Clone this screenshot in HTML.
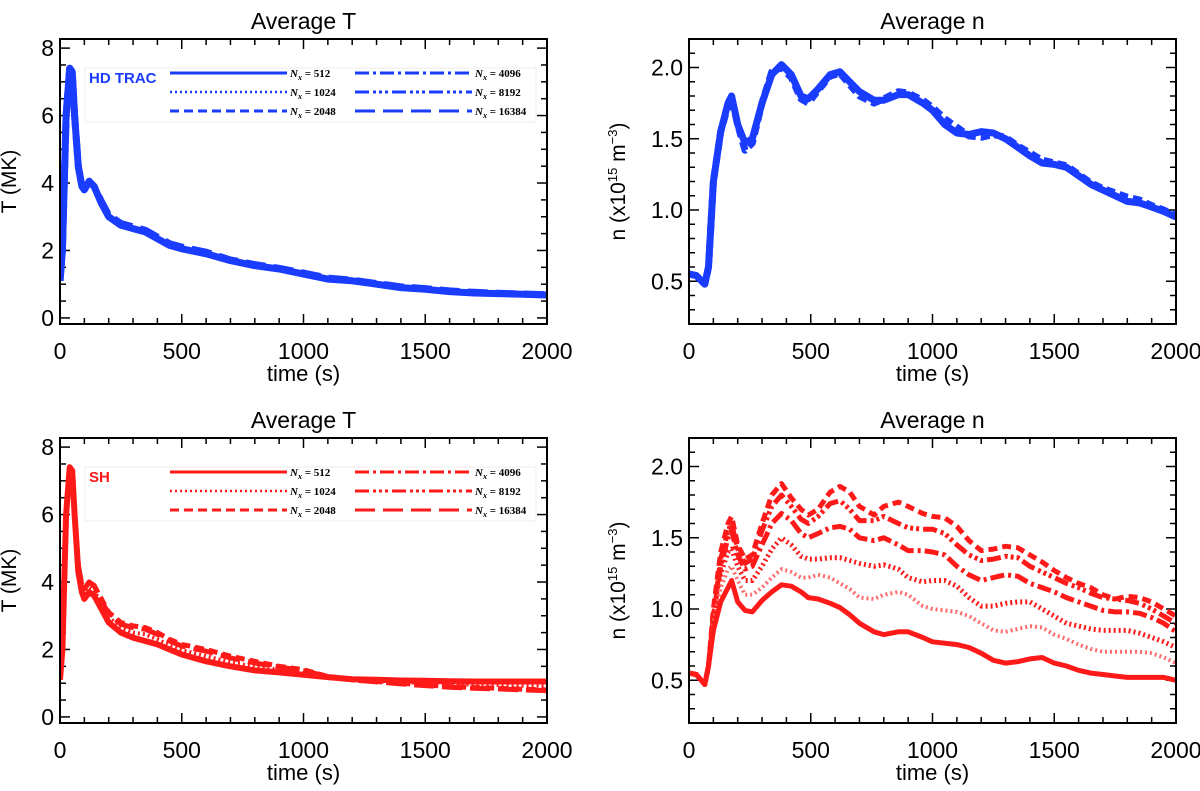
<!DOCTYPE html>
<html><head><meta charset="utf-8"><style>
body{margin:0;background:#fff;}
svg{display:block;font-family:"Liberation Sans",sans-serif;}
</style></head><body>
<svg id="fig" width="1200" height="791" viewBox="0 0 1200 791"></svg>
<script>
// ---------- data ----------
const tT = [0,10,25,40,50,60,75,90,100,120,140,170,200,250,300,350,400,450,500,600,700,800,900,1000,1100,1200,1300,1400,1500,1600,1700,1800,1900,2000];
const hdT512 = [1.1,2,6,7.4,7.3,6,4.5,3.9,3.8,4.05,3.9,3.4,3.0,2.75,2.65,2.55,2.35,2.15,2.05,1.9,1.7,1.55,1.45,1.3,1.15,1.1,1.0,0.9,0.85,0.78,0.74,0.72,0.7,0.68];
const hdT16384 = [1.1,2,6,7.4,7.3,6,4.5,3.9,3.8,4.05,3.9,3.45,3.05,2.8,2.7,2.6,2.4,2.2,2.1,1.95,1.72,1.58,1.47,1.33,1.18,1.12,1.02,0.92,0.87,0.8,0.76,0.73,0.71,0.69];
const shT512 = [1.1,2,6,7.4,7.3,6,4.3,3.7,3.5,3.7,3.6,3.2,2.8,2.5,2.35,2.25,2.15,2.0,1.85,1.65,1.5,1.38,1.32,1.25,1.18,1.12,1.1,1.08,1.07,1.06,1.05,1.05,1.05,1.05];
const shT1024 = [1.1,2,6,7.4,7.3,6,4.4,3.8,3.65,3.85,3.75,3.35,2.95,2.65,2.5,2.45,2.3,2.12,1.98,1.8,1.62,1.48,1.4,1.3,1.18,1.1,1.06,1.03,1.0,0.98,0.96,0.95,0.93,0.92];
const shT2048 = [1.1,2,6,7.4,7.3,6,4.5,3.9,3.8,4.0,3.9,3.5,3.1,2.8,2.7,2.65,2.5,2.3,2.15,2.0,1.8,1.65,1.5,1.4,1.2,1.1,1.05,1.0,0.95,0.9,0.87,0.85,0.82,0.8];
const shT16384 = [1.1,2,6,7.4,7.3,6,4.5,3.9,3.8,4.0,3.9,3.45,3.05,2.75,2.65,2.6,2.45,2.25,2.1,1.95,1.75,1.6,1.48,1.37,1.2,1.1,1.04,0.98,0.93,0.88,0.85,0.83,0.8,0.78];

const tN = [0,30,65,80,100,130,160,175,200,230,260,300,340,380,420,460,490,530,580,620,660,700,760,800,860,900,960,1000,1050,1100,1150,1200,1250,1300,1350,1400,1450,1500,1550,1600,1650,1700,1750,1800,1850,1900,1950,2000];
const hdN512 = [0.55,0.54,0.48,0.6,1.2,1.55,1.75,1.8,1.6,1.47,1.5,1.75,1.95,2.02,1.95,1.8,1.78,1.85,1.95,1.97,1.9,1.83,1.77,1.77,1.81,1.81,1.75,1.7,1.6,1.54,1.53,1.55,1.54,1.5,1.44,1.38,1.33,1.32,1.3,1.24,1.18,1.14,1.1,1.06,1.05,1.02,0.99,0.95];
const hdN2048 = [0.55,0.54,0.48,0.6,1.2,1.55,1.73,1.78,1.6,1.42,1.47,1.75,1.97,2.0,1.93,1.78,1.75,1.84,1.94,1.96,1.88,1.8,1.75,1.78,1.83,1.82,1.77,1.72,1.64,1.58,1.52,1.51,1.53,1.51,1.45,1.4,1.35,1.33,1.31,1.25,1.19,1.15,1.12,1.09,1.07,1.03,1.0,0.96];

const shN512 = [0.55,0.54,0.47,0.6,0.85,1.05,1.15,1.2,1.05,0.99,0.98,1.06,1.12,1.17,1.16,1.12,1.08,1.07,1.04,1.01,0.96,0.9,0.84,0.82,0.84,0.84,0.8,0.77,0.76,0.75,0.73,0.69,0.64,0.62,0.63,0.65,0.66,0.62,0.6,0.57,0.55,0.54,0.53,0.52,0.52,0.52,0.52,0.5];
const shN1024 = [0.55,0.54,0.47,0.6,0.9,1.15,1.28,1.3,1.2,1.1,1.1,1.15,1.22,1.28,1.26,1.22,1.22,1.24,1.22,1.18,1.14,1.08,1.07,1.1,1.12,1.1,1.02,1.0,0.99,0.98,0.95,0.9,0.85,0.84,0.86,0.88,0.87,0.82,0.79,0.75,0.72,0.7,0.7,0.7,0.7,0.69,0.66,0.62];
const shN2048 = [0.55,0.54,0.47,0.6,0.95,1.25,1.4,1.42,1.3,1.2,1.2,1.3,1.42,1.5,1.45,1.37,1.35,1.35,1.36,1.36,1.34,1.32,1.3,1.31,1.28,1.22,1.19,1.2,1.2,1.16,1.08,1.02,1.02,1.04,1.05,1.05,1.0,0.95,0.9,0.88,0.86,0.85,0.85,0.85,0.83,0.8,0.77,0.73];
const shN4096 = [0.55,0.54,0.47,0.6,0.95,1.3,1.5,1.55,1.38,1.28,1.3,1.45,1.6,1.67,1.62,1.53,1.5,1.53,1.57,1.58,1.56,1.5,1.48,1.5,1.45,1.41,1.41,1.4,1.38,1.3,1.24,1.2,1.22,1.24,1.23,1.18,1.15,1.12,1.08,1.05,1.02,0.99,0.98,0.98,0.97,0.94,0.9,0.84];
const shN8192 = [0.55,0.54,0.47,0.6,0.95,1.35,1.55,1.6,1.42,1.32,1.35,1.55,1.72,1.8,1.72,1.63,1.6,1.65,1.74,1.76,1.7,1.62,1.62,1.65,1.6,1.57,1.56,1.56,1.53,1.45,1.38,1.34,1.35,1.37,1.36,1.3,1.26,1.22,1.18,1.15,1.11,1.08,1.07,1.06,1.04,1.0,0.95,0.9];
const shN16384 = [0.55,0.54,0.47,0.6,1.0,1.4,1.6,1.65,1.45,1.35,1.38,1.6,1.8,1.88,1.78,1.7,1.66,1.7,1.82,1.86,1.82,1.72,1.66,1.72,1.75,1.72,1.67,1.65,1.64,1.58,1.48,1.41,1.42,1.44,1.43,1.38,1.33,1.27,1.22,1.18,1.15,1.1,1.07,1.09,1.08,1.05,1.0,0.95];

const legendLabels = ["512","1024","2048","4096","8192","16384"];
const xTicks = [0,500,1000,1500,2000];
const tTicks = [0,2,4,6,8];
const nTicks = [0.5,1.0,1.5,2.0];

// ---------- drawing ----------
const NS="http://www.w3.org/2000/svg";
const svg=document.getElementById('fig');
function mk(tag,attrs,parent){const e=document.createElementNS(NS,tag);for(const k in attrs)e.setAttribute(k,attrs[k]);(parent||svg).appendChild(e);return e;}
const dashes={solid:"",dot:"2,3",dash:"9,5",dashdot:"14,4,3,4",dash3dot:"14,4,3,3,3,3,3,4",longdash:"20,8"};

function panel(name,x0,y0,x1,y1,ymin,ymax,yticks,ydec,yminor,title,ylabelHtml){
  const g=mk('g',{});
  
  
  const sx=v=>x0+(v/2000)*(x1-x0);
  const sy=v=>y1-(v-ymin)/(ymax-ymin)*(y1-y0);
  for(let v=0;v<=2000;v+=100){const X=sx(v);const L=(v%500===0)?10:6;
    mk('line',{x1:X,y1:y1,x2:X,y2:y1-L,stroke:'#000','stroke-width':1.5},g);
    mk('line',{x1:X,y1:y0,x2:X,y2:y0+L,stroke:'#000','stroke-width':1.5},g);}
  for(let v=Math.ceil(ymin/yminor)*yminor;v<=ymax+1e-9;v+=yminor){const Y=sy(v);
    const major=yticks.some(t=>Math.abs(t-v)<1e-6);const L=major?10:6;
    mk('line',{x1:x0,y1:Y,x2:x0+L,y2:Y,stroke:'#000','stroke-width':1.5},g);
    mk('line',{x1:x1,y1:Y,x2:x1-L,y2:Y,stroke:'#000','stroke-width':1.5},g);}
  xTicks.forEach(v=>{const t=mk('text',{x:sx(v),y:y1+35,'text-anchor':'middle','font-size':23},g);t.textContent=v;
    });
  yticks.forEach(v=>{const t=mk('text',{x:x0-6,y:sy(v)+8,'text-anchor':'end','font-size':23},g);t.textContent=v.toFixed(ydec);
    });
  const tt=mk('text',{x:(x0+x1)/2,y:y0-10,'text-anchor':'middle','font-size':23},g);tt.textContent=title;
  
  const xl=mk('text',{x:(x0+x1)/2,y:y1+57,'text-anchor':'middle','font-size':22},g);xl.textContent='time (s)';
  
  const cx=x0-(ydec?64:44), cy=(y0+y1)/2;
  const yl=mk('text',{x:cx,y:cy,'text-anchor':'middle','font-size':21,transform:`rotate(-90 ${cx} ${cy})`},g);
  yl.innerHTML=ylabelHtml;
  
  const clipId='c'+name;
  const cp=mk('clipPath',{id:clipId},g);mk('rect',{x:x0,y:y0,width:x1-x0,height:y1-y0},cp);
  const plot=mk('g',{'clip-path':`url(#${clipId})`},g);
  return {g,plot,sx,sy,box:()=>{const b=mk('rect',{x:x0,y:y0,width:x1-x0,height:y1-y0,fill:'none',stroke:'#000','stroke-width':2},g);
    }};
}
function series(p,ts,vs,color,w,style,nm){
  const d=ts.map((t,i)=>(i?'L':'M')+p.sx(t).toFixed(1)+','+p.sy(vs[i]).toFixed(1)).join('');
  const path=mk('path',{d:d,fill:'none',stroke:color,'stroke-width':w,'stroke-linejoin':'round','stroke-dasharray':dashes[style]},p.plot);
  
  
}
function legend(x0,y0,color,tag){
  const g=mk('g',{});
  
  
  mk('rect',{x:x0,y:y0,width:451,height:54,fill:'#fff',stroke:'#eee','stroke-width':1},g);
  const tg=mk('text',{x:x0+4,y:y0+15,'font-size':15,'font-weight':'bold',fill:color},g);tg.textContent=tag;
  const styles=["solid","dot","dash","dashdot","dash3dot","longdash"];
  legendLabels.forEach((lab,i)=>{const col=Math.floor(i/3),row=i%3;
    const lx=x0+85+col*185, ly=y0+5+row*19;
    const e=mk('g',{},g);
    
    
    mk('line',{x1:lx,y1:ly,x2:lx+117,y2:ly,stroke:color,'stroke-width':styles[i]==='dot'?2.5:3,'stroke-dasharray':dashes[styles[i]]},e);
    const t=mk('text',{x:lx+120,y:ly+4,'font-size':11,'font-family':'"Liberation Serif",serif','font-weight':'bold'},e);
    t.innerHTML=`<tspan font-style="italic">N</tspan><tspan font-style="italic" font-size="8" dy="3">x</tspan><tspan dy="-3"> = ${lab}</tspan>`;
  });
}
const nLabel='n (x10<tspan font-size="13" dy="-8">15</tspan><tspan dy="8"> m</tspan><tspan font-size="13" dy="-8">−3</tspan><tspan dy="8">)</tspan>';
const blue='#1a3cff', red='#ff1a1a';

const p1=panel('panel-avg-T-hd',60,39,547,324,-0.18,8.27,tTicks,0,0.5,'Average T','T (MK)');
series(p1,tT,hdT16384,blue,7,'longdash','series-hd-T-16384');
series(p1,tT,hdT512,blue,7,'solid','series-hd-T-512');
p1.box();
legend(85,68,blue,'HD TRAC');

const p2=panel('panel-avg-n-hd',689,39,1176,324,0.2,2.2,nTicks,1,0.1,'Average n',nLabel);
series(p2,tN,hdN2048,blue,7,'dash','series-hd-n-2048');
series(p2,tN,hdN512,blue,7,'solid','series-hd-n-512');
p2.box();

const p3=panel('panel-avg-T-sh',60,438,547,723,-0.18,8.27,tTicks,0,0.5,'Average T','T (MK)');
series(p3,tT,shT2048,red,5,'dash','series-sh-T-2048');
series(p3,tT,shT16384,red,5,'longdash','series-sh-T-16384');
series(p3,tT,shT1024,red,4,'dot','series-sh-T-1024');
series(p3,tT,shT512,red,6,'solid','series-sh-T-512');
p3.box();
legend(85,467,red,'SH');

const p4=panel('panel-avg-n-sh',689,438,1176,723,0.2,2.2,nTicks,1,0.1,'Average n',nLabel);
series(p4,tN,shN16384,red,5,'dash','series-sh-n-16384');
series(p4,tN,shN8192,red,5,'dash3dot','series-sh-n-8192');
series(p4,tN,shN4096,red,5,'dashdot','series-sh-n-4096');
series(p4,tN,shN2048,red,5,'dot','series-sh-n-2048');
series(p4,tN,shN1024,'#ff6a6a',4,'dot','series-sh-n-1024');
series(p4,tN,shN512,red,5,'solid','series-sh-n-512');
p4.box();
</script>
</body></html>
